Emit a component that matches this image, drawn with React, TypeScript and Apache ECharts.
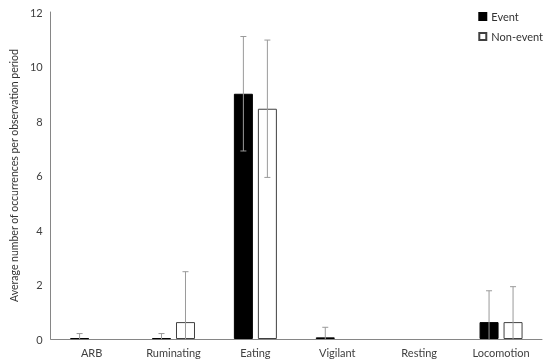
import React, { useEffect, useRef } from "react";
import * as echarts from "echarts";

const categories = ["ARB", "Ruminating", "Eating", "Vigilant", "Resting", "Locomotion"];
const eventValues = [0.03, 0.03, 9.0, 0.06, 0, 0.62];
const eventErr = [0.17, 0.17, 2.1, 0.37, 0, 1.15];
const nonEventValues = [0, 0.62, 8.45, 0, 0, 0.62];
const nonEventErr = [0, 1.85, 2.52, 0, 0, 1.3];
const yTicks = [0, 2, 4, 6, 8, 10, 12];

const BAR_W = 19;
const GAP = 5;
const FONT = "Lato";

function errorSeries(name: string, values: number[], errs: number[], side: number) {
  const data = values.map((v, i) => [i, v, errs[i]]);
  return {
    type: "custom",
    name: name + "-err",
    z: 10,
    silent: true,
    data,
    renderItem: (params: any, api: any) => {
      const i = api.value(0);
      const v = api.value(1);
      const e = api.value(2);
      if (!e) return null;
      const off = side * (BAR_W + GAP) / 2;
      const top = api.coord([i, v + e]);
      const low = Math.max(0, v - e);
      const bot = api.coord([i, low]);
      const x = top[0] + off;
      const cap = 3;
      const style = { stroke: "#9a9a9a", lineWidth: 1 };
      const children: any[] = [
        { type: "line", shape: { x1: x, y1: top[1], x2: x, y2: bot[1] }, style },
        { type: "line", shape: { x1: x - cap, y1: top[1], x2: x + cap, y2: top[1] }, style },
      ];
      if (v - e > 0) {
        children.push({ type: "line", shape: { x1: x - cap, y1: bot[1], x2: x + cap, y2: bot[1] }, style });
      }
      return { type: "group", children };
    },
  };
}

const nz = (arr: number[]) => arr.map((v) => (v === 0 ? null : v));

export default function App() {
  const ref = useRef<HTMLDivElement>(null);
  useEffect(() => {
    if (!ref.current) return;
    const chart = echarts.init(ref.current, null, { renderer: "svg" });
    chart.setOption({
      animation: false,
      textStyle: { fontFamily: FONT },
      grid: { left: 39, right: 8, top: 12, bottom: 25, containLabel: false },
      legend: {
        orient: "vertical",
        right: 2,
        top: 6,
        itemWidth: 7,
        itemHeight: 7,
        itemGap: 9,
        icon: "rect",
        textStyle: { fontFamily: FONT, fontSize: 11, color: "#333" },
        data: ["Event", "Non-event"],
      },
      xAxis: {
        type: "category",
        data: categories,
        axisLine: { lineStyle: { color: "#868686" } },
        axisTick: { show: false },
        axisLabel: { fontFamily: FONT, fontSize: 11, color: "#404040", margin: 8 },
      },
      yAxis: {
        type: "value",
        min: 0,
        max: 12,
        interval: 2,
        name: "Average number of occurrences per observation period",
        nameLocation: "middle",
        nameGap: 27,
        nameTextStyle: { fontFamily: FONT, fontSize: 10.5, color: "#333" },
        axisLine: { show: true, lineStyle: { color: "#868686" } },
        axisTick: { show: false },
        splitLine: { show: false },
        axisLabel: {
          fontFamily: FONT,
          fontSize: 11,
          color: "#404040",
          margin: 8,
          formatter: (v: number) => (yTicks.includes(v) ? String(v) : ""),
        },
      },
      series: [
        {
          type: "bar",
          name: "Event",
          data: nz(eventValues),
          barWidth: BAR_W,
          barGap: (GAP / BAR_W) * 100 + "%",
          itemStyle: { color: "#000000", borderColor: "#000000", borderWidth: 1 },
        },
        {
          type: "bar",
          name: "Non-event",
          data: nz(nonEventValues),
          barWidth: BAR_W,
          itemStyle: { color: "#ffffff", borderColor: "#404040", borderWidth: 1 },
        },
        errorSeries("Event", eventValues, eventErr, -1),
        errorSeries("Non-event", nonEventValues, nonEventErr, 1),
      ],
    });
    return () => chart.dispose();
  }, []);
  return (
    <div
      ref={ref}
      style={{ position: "fixed", left: 0, top: 0, width: 550, height: 364 }}
    />
  );
}
